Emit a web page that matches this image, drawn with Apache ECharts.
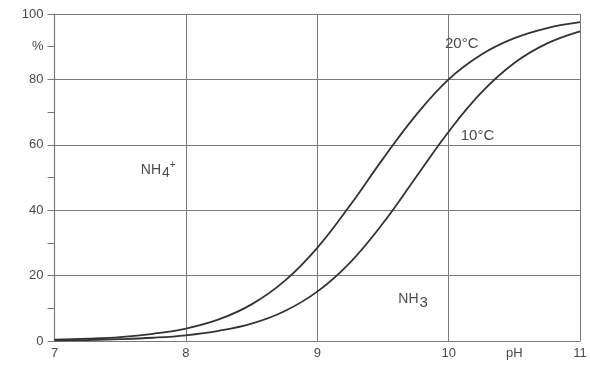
<!DOCTYPE html>
<html><head><meta charset="utf-8">
<script src="https://cdn.jsdelivr.net/npm/echarts@6/dist/echarts.min.js"></script>
<style>html,body{margin:0;padding:0;background:#fff}#c{width:590px;height:367px}</style>
</head><body><div id="c"></div>
<script>
const pH = [7,7.25,7.5,7.75,8,8.25,8.5,8.75,9,9.25,9.5,9.75,10,10.25,10.5,10.75,11];
const nh3_20C = [0.4,0.7,1.2,2.2,3.8,6.6,11.2,18.3,28.5,41.5,55.7,69,80,87.6,92.6,95.7,97.5];
const nh3_10C = [0.18,0.3,0.56,1.0,1.75,3.1,5.3,9.1,15.1,24,36,50,64,76,85,91,94.7];
const yTickLabels = {0:'0',20:'20',40:'40',60:'60',80:'80',90:'%',100:'100'};
const xTickLabels = {7:'7',8:'8',9:'9',10:'10',10.5:'pH',11:'11'};
const annotations = [
  {name:'20°C', coord:[10.1,90.8]},
  {name:'10°C', coord:[10.22,62.7]},
  {name:'nh4', coord:[7.79,52.3]},
  {name:'nh3', coord:[9.73,12.8]}
];
const FONT = 'Liberation Sans';
const TXT = '#4a4a4a';
const GRID = '#7a7a7a';
const chart = echarts.init(document.getElementById('c'));
const lineSeries = (name, data) => ({
  name, type:'line', smooth:0.4, showSymbol:false, symbol:'none',
  xAxisIndex:0, yAxisIndex:0,
  data: pH.map((x,i)=>[x,data[i]]),
  lineStyle:{color:'#333', width:1.8},
  silent:true, animation:false
});
const s20 = lineSeries('20°C', nh3_20C);
s20.markPoint = {
  symbol:'circle', symbolSize:0, animation:false,
  label:{show:true, position:'inside', fontFamily:FONT, fontSize:15, color:TXT,
    formatter:p=>p.name==='nh4' ? '{a|NH}{b|4}{c|+}' : p.name==='nh3' ? '{a|NH}{d|3}' : p.name,
    rich:{
      a:{fontFamily:FONT, fontSize:14, color:TXT},
      b:{fontFamily:FONT, fontSize:14, color:TXT, padding:[6,0,0,1]},
      c:{fontFamily:FONT, fontSize:10, color:TXT, padding:[0,0,10,0]},
      d:{fontFamily:FONT, fontSize:15, color:TXT, padding:[7,0,0,1]}
    }
  },
  data: annotations.map(a=>({name:a.name, coord:a.coord}))
};
chart.setOption({
  animation:false,
  grid:{left:54.5, right:10, top:14, bottom:26, containLabel:false},
  xAxis:[
    {type:'value', min:7, max:11, interval:0.5,
     axisLine:{show:true, lineStyle:{color:GRID, width:1.2}},
     axisTick:{show:false}, splitLine:{show:false},
     axisLabel:{fontFamily:FONT, fontSize:13, color:TXT, margin:6,
       formatter:v=> xTickLabels[v] !== undefined ? xTickLabels[v] : ''}},
    {type:'value', min:7, max:11, interval:1, position:'bottom',
     axisLine:{show:false}, axisTick:{show:false}, axisLabel:{show:false},
     splitLine:{show:true, lineStyle:{color:GRID, width:1}}}
  ],
  yAxis:[
    {type:'value', min:0, max:100, interval:10,
     axisLine:{show:true, lineStyle:{color:GRID, width:1.2}},
     axisTick:{show:true, length:7, inside:false, lineStyle:{color:GRID}},
     splitLine:{show:false},
     axisLabel:{fontFamily:FONT, fontSize:13, color:TXT, margin:11,
       formatter:v=> yTickLabels[v] !== undefined ? yTickLabels[v] : ''}},
    {type:'value', min:0, max:100, interval:20, position:'left',
     axisLine:{show:false}, axisTick:{show:false}, axisLabel:{show:false},
     splitLine:{show:true, lineStyle:{color:GRID, width:1}}}
  ],
  series:[ s20, lineSeries('10°C', nh3_10C) ]
});
</script></body></html>
